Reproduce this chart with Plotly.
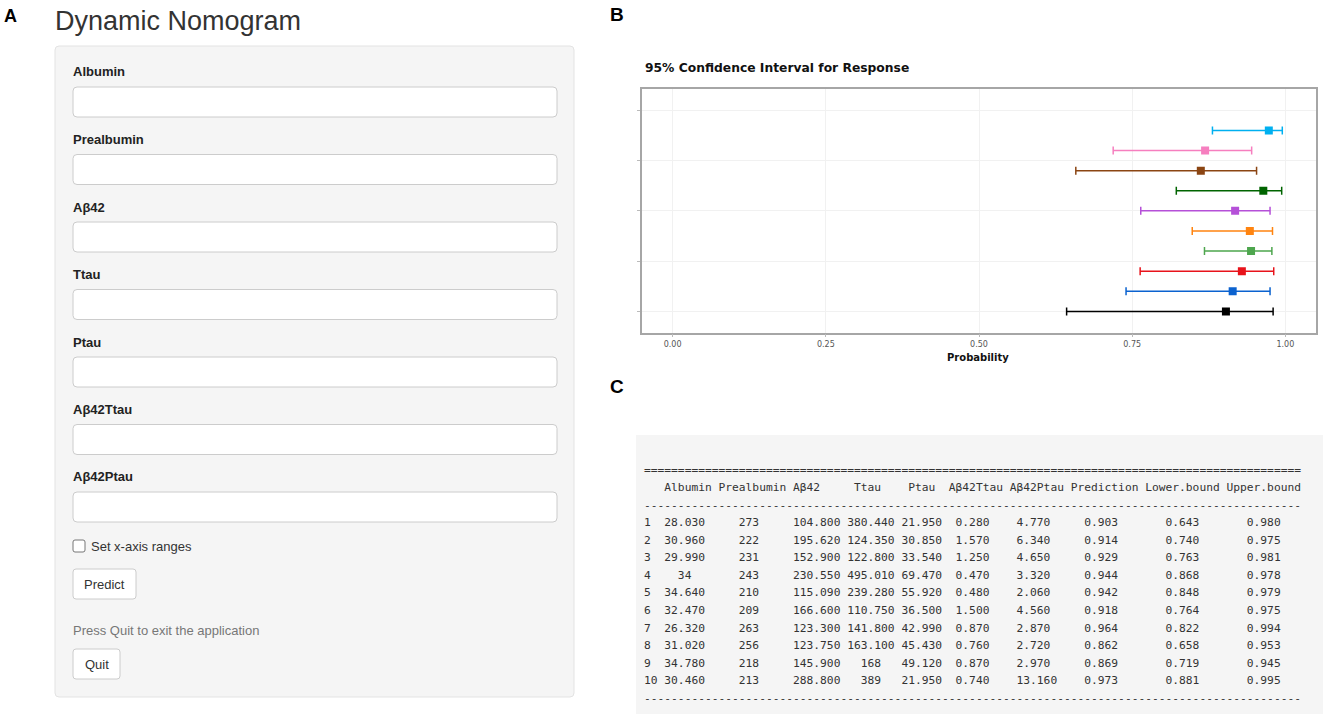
import plotly.graph_objects as go

W, H = 1325, 714


def X(px):
    return px / W


def Y(py):
    return 1 - py / H


# ---------------- data ----------------
row_ids = list(range(1, 11))
albumin = [28.03, 30.96, 29.99, 34, 34.64, 32.47, 26.32, 31.02, 34.78, 30.46]
prealbumin = [273, 222, 231, 243, 210, 209, 263, 256, 218, 213]
ab42 = [104.8, 195.62, 152.9, 230.55, 115.09, 166.6, 123.3, 123.75, 145.9, 288.8]
ttau = [380.44, 124.35, 122.8, 495.01, 239.28, 110.75, 141.8, 163.1, 168, 389]
ptau = [21.95, 30.85, 33.54, 69.47, 55.92, 36.5, 42.99, 45.43, 49.12, 21.95]
ab42ttau = [0.28, 1.57, 1.25, 0.47, 0.48, 1.5, 0.87, 0.76, 0.87, 0.74]
ab42ptau = [4.77, 6.34, 4.65, 3.32, 2.06, 4.56, 2.87, 2.72, 2.97, 13.16]
prediction = [0.903, 0.914, 0.929, 0.944, 0.942, 0.918, 0.964, 0.862, 0.869, 0.973]
lower = [0.643, 0.740, 0.763, 0.868, 0.848, 0.764, 0.822, 0.658, 0.719, 0.881]
upper = [0.980, 0.975, 0.981, 0.978, 0.979, 0.975, 0.994, 0.953, 0.945, 0.995]
row_colors = ["#000000", "#0b62cf", "#e8131b", "#4ea64e", "#ff8410",
              "#b550d8", "#006400", "#8b4513", "#f67fbf", "#00b0f0"]

x_tickvals = [0, 0.25, 0.5, 0.75, 1.0]
x_ticktext = ["0.00", "0.25", "0.50", "0.75", "1.00"]
y_tickvals = [1, 3.5, 6, 8.5, 11]

input_labels = ["Albumin", "Prealbumin", "Aβ42", "Ttau", "Ptau", "Aβ42Ttau", "Aβ42Ptau"]

table_header = "   Albumin Prealbumin Aβ42     Ttau    Ptau  Aβ42Ttau Aβ42Ptau Prediction Lower.bound Upper.bound"
col_widths = [2, 7, 10, 7, 7, 6, 8, 8, 10, 11, 11]

fig = go.Figure()

# ---------------- panel B: CI plot ----------------
for i, rid in enumerate(row_ids):
    c = row_colors[i]
    fig.add_trace(go.Scatter(
        x=[prediction[i]], y=[rid], mode="markers",
        marker=dict(symbol="square", size=8, color=c),
        error_x=dict(type="data", symmetric=False,
                     array=[upper[i] - prediction[i]],
                     arrayminus=[prediction[i] - lower[i]],
                     color=c, thickness=1.5, width=4),
        showlegend=False, hoverinfo="x+y",
    ))

fig.update_layout(
    width=W, height=H, autosize=False,
    margin=dict(l=0, r=0, t=0, b=0),
    paper_bgcolor="white", plot_bgcolor="white",
    showlegend=False,
    xaxis=dict(domain=[X(642), X(1316)], range=[-0.05, 1.05],
               tickvals=x_tickvals, ticktext=x_ticktext,
               tickfont=dict(family="DejaVu Sans", size=8, color="#555555"),
               ticks="outside", ticklen=3, tickcolor="#bbbbbb",
               showgrid=True, gridcolor="#f1f1f1", gridwidth=1,
               zeroline=False, showline=True, mirror=True,
               linecolor="#a6a6a6", linewidth=1.5),
    yaxis=dict(domain=[Y(332.5), Y(89)], range=[-0.05, 12.06],
               tickvals=y_tickvals, ticktext=[""] * len(y_tickvals),
               ticks="outside", ticklen=3, tickcolor="#bbbbbb",
               showgrid=True, gridcolor="#f1f1f1", gridwidth=1,
               zeroline=False, showline=True, mirror=True,
               linecolor="#a6a6a6", linewidth=1.5),
)


# ---------------- helpers for UI drawing ----------------
def rrect(x0, y0, x1, y1, r, fill, line, lw=1):
    rx, ry = r, r
    p = (f"M {X(x0+rx)},{Y(y0)} L {X(x1-rx)},{Y(y0)} Q {X(x1)},{Y(y0)} {X(x1)},{Y(y0+ry)} "
         f"L {X(x1)},{Y(y1-ry)} Q {X(x1)},{Y(y1)} {X(x1-rx)},{Y(y1)} "
         f"L {X(x0+rx)},{Y(y1)} Q {X(x0)},{Y(y1)} {X(x0)},{Y(y1-ry)} "
         f"L {X(x0)},{Y(y0+ry)} Q {X(x0)},{Y(y0)} {X(x0+rx)},{Y(y0)} Z")
    return dict(type="path", xref="paper", yref="paper", path=p,
                fillcolor=fill, line=dict(color=line, width=lw), layer="below")


def text(x, y, s, size=13, color="#333333", bold=False, family="Liberation Sans",
         xanchor="left"):
    if bold:
        s = f"<b>{s}</b>"
    return dict(x=X(x), y=Y(y), xref="paper", yref="paper", text=s,
                showarrow=False, xanchor=xanchor, yanchor="middle",
                font=dict(family=family, size=size, color=color))


shapes = []
annotations = []

# panel A
shapes.append(rrect(55, 46, 574, 697, 4, "#f5f5f5", "#e3e3e3"))
annotations.append(text(2, 16, "A", size=18, color="#000000", bold=True))
annotations.append(text(53, 21, "Dynamic Nomogram", size=27, color="#333333"))
for k, lab in enumerate(input_labels):
    ly = 72 + 67.5 * k
    annotations.append(text(71, ly, lab, size=13, color="#222222", bold=True))
    by = 87 + 67.5 * k
    shapes.append(rrect(73, by, 557, by + 30, 4, "#ffffff", "#cccccc"))
# checkbox
shapes.append(rrect(73, 540, 85, 552, 2, "#ffffff", "#767676"))
annotations.append(text(89, 546, "Set x-axis ranges", size=13, color="#333333"))
# Predict button
shapes.append(rrect(73, 569, 136, 599, 3, "#ffffff", "#cccccc"))
annotations.append(text(104.5, 584, "Predict", size=13, color="#333333", xanchor="center"))
annotations.append(text(71, 630, "Press Quit to exit the application", size=13, color="#777777"))
# Quit button
shapes.append(rrect(73, 649, 120, 679, 3, "#ffffff", "#cccccc"))
annotations.append(text(96.5, 664, "Quit", size=13, color="#333333", xanchor="center"))

# panel B labels
annotations.append(text(608, 14, "B", size=19, color="#000000", bold=True))
annotations.append(text(643, 68, "95% Confidence Interval for Response", size=12.3,
                        color="#111111", bold=True, family="DejaVu Sans"))
annotations.append(text(978, 357, "Probability", size=10, color="#111111", bold=True,
                        family="DejaVu Sans", xanchor="center"))

# panel C
annotations.append(text(608, 386, "C", size=19, color="#000000", bold=True))
shapes.append(dict(type="rect", xref="paper", yref="paper",
                   x0=X(636), x1=X(1323), y0=Y(714), y1=Y(435),
                   fillcolor="#f5f5f5", line=dict(width=0), layer="below"))


def fmt(v):
    return str(int(v)) if float(v).is_integer() else f"{v:.3f}"


def cell(s, w):
    p = (w - len(s)) // 2
    return " " * p + s + " " * (w - len(s) - p)


total = sum(col_widths) + len(col_widths) - 1
lines = ["=" * total, table_header, "-" * total]
for i, rid in enumerate(row_ids):
    vals = [albumin[i], prealbumin[i], ab42[i], ttau[i], ptau[i], ab42ttau[i],
            ab42ptau[i], prediction[i], lower[i], upper[i]]
    parts = [str(rid).ljust(col_widths[0])]
    for v, w in zip(vals, col_widths[1:]):
        parts.append(cell(fmt(v), w))
    lines.append(" ".join(parts))
lines.append("-" * total)

for k, ln in enumerate(lines):
    ly = 470 + 17.56 * k
    annotations.append(dict(x=X(643), y=Y(ly), xref="paper", yref="paper",
                            text=ln.replace(" ", "\u00a0"), showarrow=False,
                            xanchor="left", yanchor="middle", borderpad=0,
                            font=dict(family="DejaVu Sans Mono", size=11.25,
                                      color="#333333")))

fig.update_layout(shapes=shapes, annotations=annotations)

fig.write_html("out.html", config={"displayModeBar": False},
               post_script="document.body.style.margin='0';document.body.style.overflow='hidden';")
